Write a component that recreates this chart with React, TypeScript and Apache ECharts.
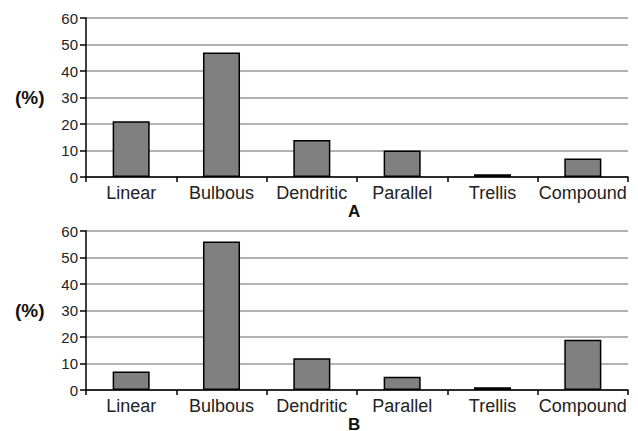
import React, { useEffect, useRef } from "react";
import * as echarts from "echarts";

const categories = ["Linear", "Bulbous", "Dendritic", "Parallel", "Trellis", "Compound"];
const valuesA = [21, 47, 14, 10, 1, 7];
const valuesB = [7, 56, 12, 5, 1, 19];
const panelLabels = ["A", "B"];
const yName = "(%)";

export default function App() {
  const ref = useRef<HTMLDivElement>(null);
  useEffect(() => {
    if (!ref.current) return;
    const chart = echarts.init(ref.current, null, { renderer: "svg" });
    const font = "Liberation Sans, Arial, sans-serif";
    const tops = [18, 231];
    const grids = tops.map((t) => ({ left: 86, top: t, width: 542, height: 159 }));
    const xAxes = tops.map((_, i) => ({
      type: "category" as const,
      gridIndex: i,
      data: categories,
      axisLine: { lineStyle: { color: "#000", width: 1.5 } },
      axisTick: { show: true, length: 5, lineStyle: { color: "#000", width: 1.5 } },
      axisLabel: { color: "#222", fontSize: 18, fontFamily: font, margin: 7, interval: 0 },
    }));
    const yAxes = tops.map((_, i) => ({
      type: "value" as const,
      gridIndex: i,
      min: 0,
      max: 60,
      interval: 10,
      axisLine: { show: true, lineStyle: { color: "#000", width: 1.5 } },
      axisTick: { show: true, length: 6, lineStyle: { color: "#000", width: 1.5 } },
      axisLabel: { color: "#222", fontSize: 15, fontFamily: font, margin: 8 },
      splitLine: { show: true, lineStyle: { color: "#9a9a9a", width: 1.5 } },
    }));
    const mkSeries = (vals: number[], i: number) => ({
      type: "bar" as const,
      xAxisIndex: i,
      yAxisIndex: i,
      data: vals,
      barWidth: "41%",
      itemStyle: { color: "#808080", borderColor: "#000", borderWidth: 1.5 },
    });
    chart.setOption({
      animation: false,
      backgroundColor: "#fff",
      grid: grids,
      xAxis: xAxes,
      yAxis: yAxes,
      series: [mkSeries(valuesA, 0), mkSeries(valuesB, 1)],
      graphic: [
        ...tops.map((t) => ({
          type: "text",
          left: 15,
          top: t + 70,
          style: { text: yName, font: `bold 19px ${font}`, fill: "#111" },
        })),
        ...tops.map((t, i) => ({
          type: "text",
          left: 348,
          top: t + 185,
          style: { text: panelLabels[i], font: `bold 17px ${font}`, fill: "#111" },
        })),
      ],
    });
    return () => chart.dispose();
  }, []);
  return (
    <div
      ref={ref}
      style={{ position: "fixed", left: 0, top: 0, width: 638, height: 431, background: "#fff" }}
    />
  );
}
